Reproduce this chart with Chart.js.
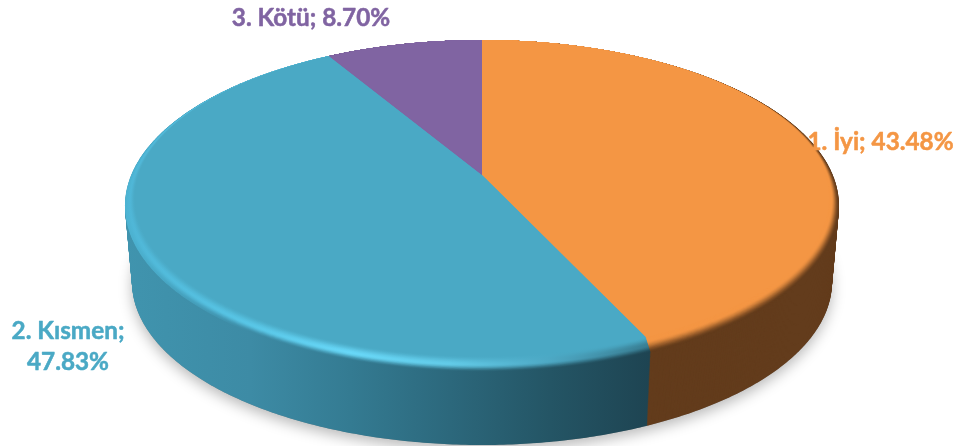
<!DOCTYPE html>
<html><head><meta charset="utf-8">
<style>html,body{margin:0;padding:0;background:#fff;overflow:hidden}canvas{display:block}</style>
<script src="https://cdn.jsdelivr.net/npm/chart.js@4"></script>
</head><body>
<canvas id="c" width="957" height="446"></canvas>
<script>
const categories = ['1. İyi', '2. Kısmen', '3. Kötü'];
const percentages = [43.48, 47.83, 8.70];
const sliceColors = ['#f49644', '#4aa9c5', '#8064a2'];

const hex = c => [1,3,5].map(i => parseInt(c.substr(i,2),16));
const mix = (a,b,t) => { const A=hex(a),B=hex(b); return 'rgb('+A.map((v,i)=>Math.round(v+(B[i]-v)*t)).join(',')+')'; };

// Perspective: circle angle -> normalised position on an ellipse, centre shifted towards the back.
const TILT = 0.187, K = Math.sqrt(1 - TILT*TILT);
const project = a => { const u=Math.cos(a), v=Math.sin(a), d=1-TILT*v; return [u*K/d, (v-TILT)/d]; };
const TOP = {cx:482, cy:206, rx:357, ry:166};
const INNER = {cx:482, cy:198, rx:347, ry:158};
const BOTTOM = {cx:482, cy:282, rx:350, ry:163};
const APEX = {x:482, y:175};
const lerpE = (p,q,t) => ({cx:p.cx+(q.cx-p.cx)*t, cy:p.cy+(q.cy-p.cy)*t, rx:p.rx+(q.rx-p.rx)*t, ry:p.ry+(q.ry-p.ry)*t});
const onE = (e,a) => { const [X,Y]=project(a); return [e.cx+e.rx*X, e.cy+e.ry*Y]; };
const samples = (s,e) => { const n=Math.max(2,Math.ceil((e-s)/0.01)), r=[]; for(let i=0;i<=n;i++) r.push(s+(e-s)*i/n); return r; };
function sector(ctx, e, arc, ax, ay){
  ctx.beginPath(); ctx.moveTo(ax,ay);
  samples(arc.startAngle,arc.endAngle).forEach(a=>{const p=onE(e,a); ctx.lineTo(p[0],p[1]);});
  ctx.closePath();
}

// Horizontal shading of the cylinder wall and rim
const SHADE_X = [125,250,350,450,550,650];
const BLUE_SIDE = ['#4094ae','#3d8ba5','#347b92','#2c687c','#245565','#1e4452'];
const BLUE_EDGE = ['#4db4d3','#3d8ba5','#347b92','#2c687c','#245565','#1e4452'];
const BLUE_HIGH = ['#4fb6d6','#58c6e6','#68d8f8','#62cbe8','#4da8c4','#387d92'];
const ORANGE_SIDE = '#633c1c';
const PURPLE_SIDE = '#4c3b61';

function hGrad(ctx, stops){
  const g = ctx.createLinearGradient(SHADE_X[0],0,SHADE_X[SHADE_X.length-1],0);
  const span = SHADE_X[SHADE_X.length-1]-SHADE_X[0];
  stops.forEach((c,i)=>g.addColorStop((SHADE_X[i]-SHADE_X[0])/span,c));
  return g;
}
const smooth = x => { x=Math.min(1,Math.max(0,x)); return x*x*(3-2*x); };

function rimFill(ctx, i, t){
  const face = sliceColors[i];
  if(i===0) return mix(face, ORANGE_SIDE, smooth((t-0.25)/0.75));
  if(i===2) return mix(face, PURPLE_SIDE, smooth((t-0.25)/0.75));
  const stops = SHADE_X.map((_,k)=> t<0.55
    ? mix(face, BLUE_HIGH[k], smooth(t/0.55))
    : mix(BLUE_HIGH[k], BLUE_EDGE[k], smooth((t-0.55)/0.45)));
  return hGrad(ctx, stops);
}

const pie3d = {
  id:'pie3d',
  beforeDatasetsDraw(chart){
    const ctx = chart.ctx, arcs = chart.getDatasetMeta(0).data;
    ctx.save();
    // soft ground shadow
    ctx.save();
    ctx.shadowColor='rgba(0,0,0,0.28)'; ctx.shadowBlur=14; ctx.shadowOffsetY=5;
    ctx.fillStyle='#888';
    ctx.beginPath(); ctx.ellipse(BOTTOM.cx,BOTTOM.cy,BOTTOM.rx,BOTTOM.ry,0,0,Math.PI*2); ctx.fill();
    ctx.restore();
    // wall: the sector swept from the bottom outline up to the top outline
    const sideFill = [ORANGE_SIDE, hGrad(ctx,BLUE_SIDE), PURPLE_SIDE];
    const W=76;
    for(let L=0;L<=W;L++){
      const d=L/W, e=lerpE(TOP,BOTTOM,1-d);
      arcs.forEach((arc,i)=>{
        sector(ctx,e,arc,APEX.x,APEX.y+(BOTTOM.cy-TOP.cy)*(1-d));
        ctx.fillStyle=sideFill[i]; ctx.fill();
      });
    }
    // rim layers, outside in, ending with the flat face
    const N=28;
    for(let L=N;L>=0;L--){
      const t=L/N, e=lerpE(INNER,TOP,t);
      arcs.forEach((arc,i)=>{
        sector(ctx,e,arc,APEX.x,APEX.y);
        ctx.fillStyle=rimFill(ctx,i,t); ctx.fill();
      });
    }
    ctx.restore();
    return false;
  },
  afterDraw(chart){
    const ctx=chart.ctx;
    const pct = percentages.map(v=>v.toFixed(2)+'%');
    const put=(text,i,x,y)=>{ ctx.fillStyle=ctx.strokeStyle=sliceColors[i]; ctx.fillText(text,x,y); ctx.strokeText(text,x,y); };
    ctx.save();
    ctx.font='bold 24.3px Lato, "Open Sans", sans-serif';
    ctx.lineWidth=0.5; ctx.lineJoin='round';
    ctx.textAlign='center'; ctx.textBaseline='middle';
    put(categories[0]+'; '+pct[0],0,880.5,142);
    put(categories[1]+';',1,68,331); put(pct[1],1,68,362);
    put(categories[2]+'; '+pct[2],2,311,18);
    ctx.restore();
  }
};

new Chart(document.getElementById('c'),{
  type:'pie',
  data:{labels:categories,datasets:[{data:percentages,backgroundColor:sliceColors,borderWidth:0}]},
  options:{responsive:false,animation:false,plugins:{legend:{display:false},tooltip:{enabled:false}}},
  plugins:[pie3d]
});
</script>
</body></html>
